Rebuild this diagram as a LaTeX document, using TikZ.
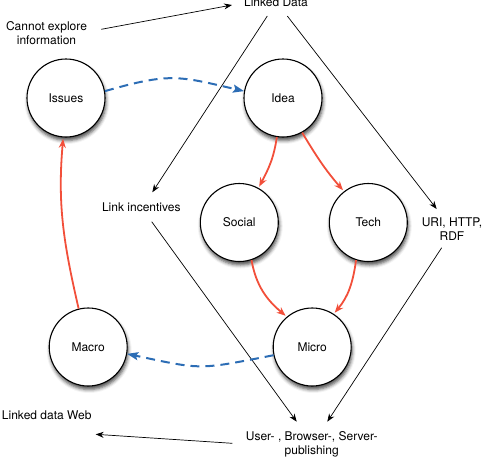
\documentclass[tikz,border=0pt]{standalone}
\usepackage{fontspec}
\setmainfont{TeX Gyre Heros}
\usetikzlibrary{arrows.meta,shadows.blur,calc}
\definecolor{redarr}{HTML}{F24F3A}
\definecolor{bluearr}{HTML}{2C6DB5}
\tikzset{
  bubble/.style={circle,draw=black,line width=1.1pt,fill=white,minimum size=78pt,inner sep=0pt,
    blur shadow={shadow xshift=1pt,shadow yshift=-3.5pt,shadow blur radius=3.5pt,shadow opacity=70}},
  lbl/.style={inner sep=0pt,align=center},
  thin arrow/.style={draw=black,line width=0.7pt,-{Stealth[length=8pt,width=6pt]}},
  red arrow/.style={draw=redarr,line width=1.8pt,-{Stealth[length=9pt,width=7pt]},shorten >=1.5pt},
  blue arrow/.style={draw=bluearr,line width=2pt,dash pattern=on 9pt off 6pt,-{Stealth[length=11pt,width=8pt,inset=2pt]}}
}
\begin{document}
\begin{tikzpicture}[x=1pt,y=1pt,font=\fontsize{12}{14}\selectfont]
\useasboundingbox (0,0) rectangle (491,-467);
% circles
\node[bubble] (issues) at (66,-98) {Issues};
\node[bubble] (idea) at (283,-98) {Idea};
\node[bubble] (social) at (239.3,-222.5) {Social};
\node[bubble] (tech) at (368.3,-222.5) {Tech};
\node[bubble] (micro) at (312.2,-347) {Micro};
\node[bubble] (macro) at (88.2,-347) {Macro};
% labels
\node[lbl,anchor=base] (linked) at (276,-6.7) {Linked Data};
\node[lbl] (cannot) at (46.5,-33.6) {Cannot explore\\information};
\node[lbl,anchor=base] (linkinc) at (141.3,-211.7) {Link incentives};
\node[lbl] (uri) at (452,-229.4) {URI, HTTP,\\RDF};
\node[lbl] (user) at (311.7,-444.3) {User- , Browser-, Server-\\publishing};
\node[lbl,anchor=base] (ldw) at (46.7,-419.3) {Linked data Web};
% black arrows
\draw[thin arrow] ([shift={(54.8,4.3)}]cannot.center) -- ([shift={(-44,1.7)}]linked.base);
\draw[thin arrow] ([shift={(-8.7,-9.3)}]linked.base) -- ([shift={(11,19.4)}]linkinc.base);
\draw[thin arrow] ([shift={(11.3,-9.3)}]linked.base) -- ([shift={(-15.3,20.4)}]uri.center);
\draw[thin arrow] ([shift={(10.4,-10)}]linkinc.base) -- ([shift={(-15,22.6)}]user.center);
\draw[thin arrow] ([shift={(-10.3,-18.3)}]uri.center) -- ([shift={(15.6,22.6)}]user.center);
\draw[thin arrow] ([shift={(-79.4,1)}]user.center) -- ([shift={(49,-15)}]ldw.base);
% red arrows
\draw[red arrow] (idea.261) to[out=262,in=62] (social.61);
\draw[red arrow] (idea.299) to[out=301,in=131] (tech.128);
\draw[red arrow] (social.288) to[out=280,in=140] (micro.130);
\draw[red arrow] (tech.252) to[out=262,in=50] (micro.57.5);
\draw[red arrow] (macro.104) to[out=103,in=265] (issues.266);
% blue dashed arrows
\draw[blue arrow] (issues.10) to[out=16,in=167,looseness=1.25] (idea.170);
\draw[blue arrow] (micro.192) to[out=191,in=348,looseness=1.35] (macro.350);
\end{tikzpicture}
\end{document}
